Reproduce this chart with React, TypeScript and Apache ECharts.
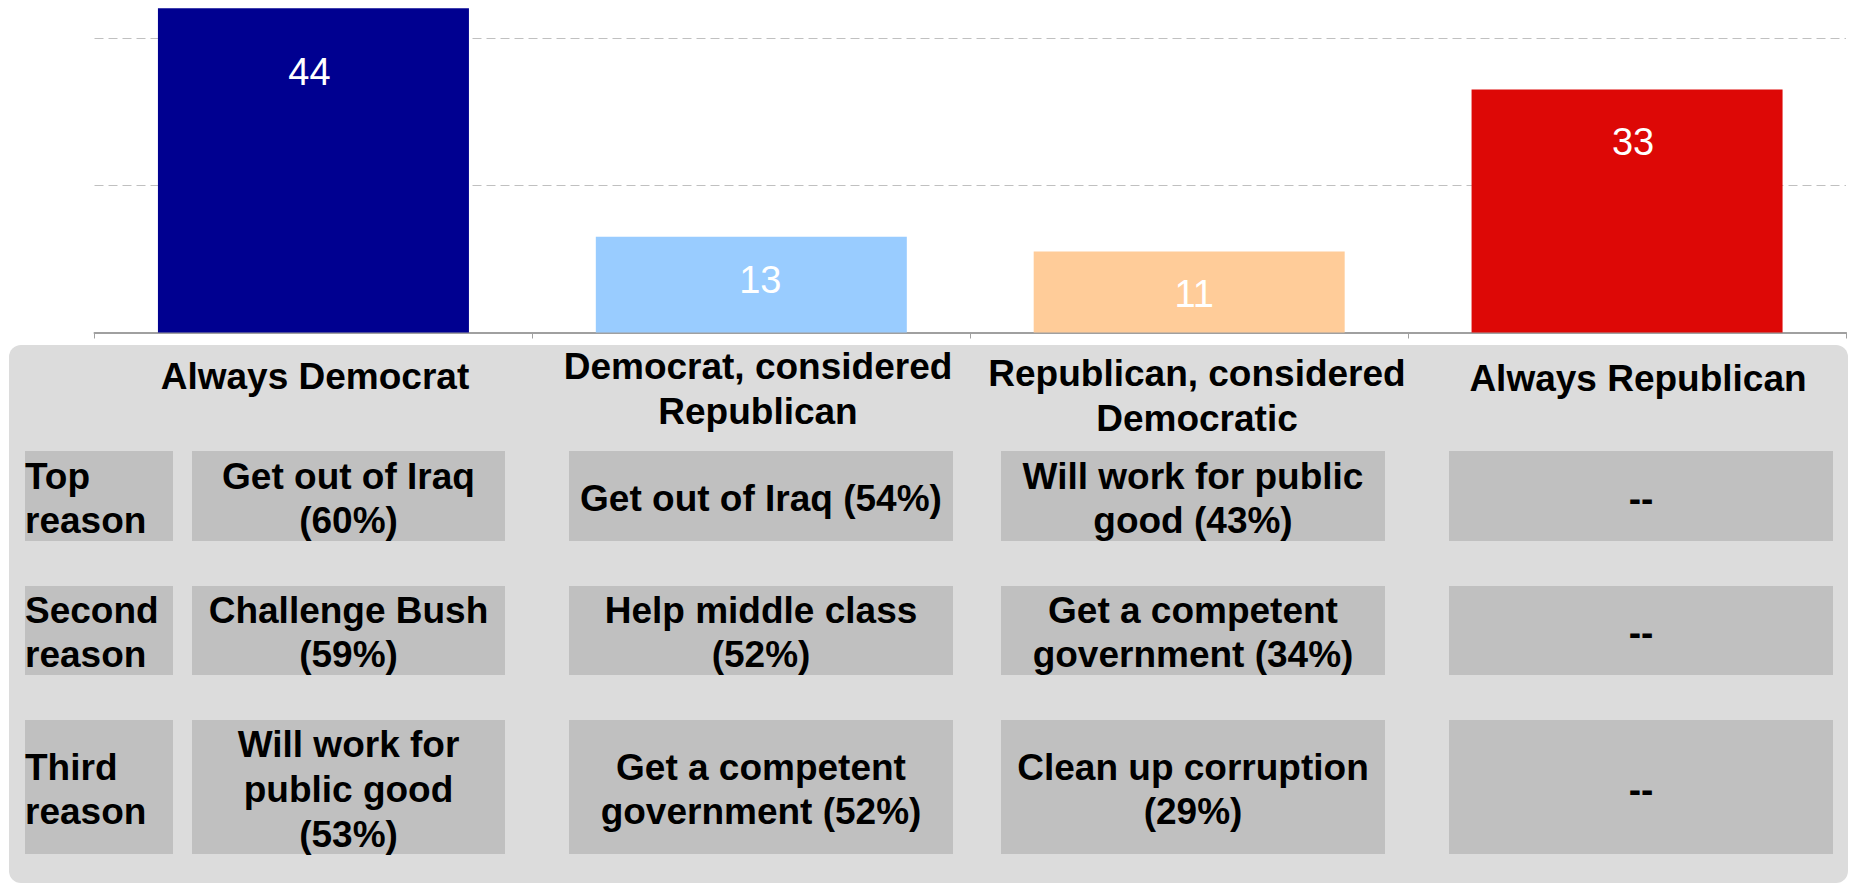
import React, { useEffect, useRef } from "react";
import * as echarts from "echarts";

// ---- data ----
const categories = [
  "Always Democrat",
  "Democrat, considered Republican",
  "Republican, considered Democratic",
  "Always Republican",
];
const values = [44, 13, 11, 33];
const headerLines = [
  "Always Democrat",
  "Democrat, considered\nRepublican",
  "Republican, considered\nDemocratic",
  "Always Republican",
];
const rowLabels = ["Top\nreason", "Second\nreason", "Third\nreason"];
const alwaysDemocratReasons = ["Get out of Iraq\n(60%)", "Challenge Bush\n(59%)", "Will work for\npublic good\n(53%)"];
const demConsideredRepReasons = ["Get out of Iraq (54%)", "Help middle class\n(52%)", "Get a competent\ngovernment (52%)"];
const repConsideredDemReasons = ["Will work for public\ngood (43%)", "Get a competent\ngovernment (34%)", "Clean up corruption\n(29%)"];
const alwaysRepublicanReasons = ["--", "--", "--"];
const gridValues = [0, 20, 40];

// ---- styles / layout ----
const barColors = ["#000090", "#99CCFF", "#FFCC99", "#DD0806"];
const labelDy = [64, 43, 43, 53];
const labelDx = [-4, 9, 5, 6];
const FONT = "'Liberation Sans', Arial, Helvetica, sans-serif";
const colBounds = [
  [192, 505],
  [569, 953],
  [1001, 1385],
  [1449, 1833],
];
const rowBounds = [
  [451, 541],
  [586, 675],
  [720, 854],
];
const labelCol = [25, 173];
const headerX = [315, 758, 1197, 1638];
const headerTop = [354, 344, 351, 356];

export default function App() {
  const ref = useRef<HTMLDivElement>(null);

  useEffect(() => {
    if (!ref.current) return;
    const chart = echarts.init(ref.current, null, { renderer: "svg" });
    const columns = [alwaysDemocratReasons, demConsideredRepReasons, repConsideredDemReasons, alwaysRepublicanReasons];

    const graphics: any[] = [];
    graphics.push({
      type: "rect",
      shape: { x: 9, y: 345, width: 1839, height: 538, r: 12 },
      style: { fill: "#DCDCDC" },
      z: 0,
    });
    headerLines.forEach((h, i) => {
      graphics.push({
        type: "text",
        x: headerX[i],
        y: headerTop[i],
        style: {
          text: h,
          fill: "#000",
          font: `bold 37px ${FONT}`,
          align: "center",
          verticalAlign: "top",
          lineHeight: 45,
        },
        z: 2,
      });
    });
    rowBounds.forEach((rb, r) => {
      const cy = (rb[0] + rb[1]) / 2 + 2;
      graphics.push({
        type: "rect",
        shape: { x: labelCol[0], y: rb[0], width: labelCol[1] - labelCol[0], height: rb[1] - rb[0] },
        style: { fill: "#C0C0C0" },
        z: 1,
      });
      graphics.push({
        type: "text",
        x: labelCol[0],
        y: cy,
        style: {
          text: rowLabels[r],
          fill: "#000",
          font: `bold 37px ${FONT}`,
          align: "left",
          verticalAlign: "middle",
          lineHeight: 44,
        },
        z: 2,
      });
      colBounds.forEach((cb, c) => {
        graphics.push({
          type: "rect",
          shape: { x: cb[0], y: rb[0], width: cb[1] - cb[0], height: rb[1] - rb[0] },
          style: { fill: "#C0C0C0" },
          z: 1,
        });
        const txt = columns[c][r];
        const lines = txt.split("\n").length;
        graphics.push({
          type: "text",
          x: (cb[0] + cb[1]) / 2,
          y: cy,
          style: {
            text: txt,
            fill: "#000",
            font: `bold 37px ${FONT}`,
            align: "center",
            verticalAlign: "middle",
            lineHeight: lines >= 3 ? 45 : 44,
          },
          z: 2,
        });
      });
    });

    chart.setOption({
      animation: false,
      backgroundColor: "#ffffff",
      grid: { left: 94.5, right: 6, top: 1, bottom: 550.5, containLabel: false },
      xAxis: {
        type: "category",
        data: categories,
        axisLabel: { show: false },
        axisLine: { show: true, lineStyle: { color: "#A0A0A0", width: 2 } },
        axisTick: { show: true, length: 6, lineStyle: { color: "#A0A0A0", width: 1 } },
        splitLine: { show: false },
      },
      yAxis: {
        type: "value",
        min: gridValues[0],
        max: 45,
        interval: gridValues[1] - gridValues[0],
        axisLabel: { show: false },
        axisLine: { show: false },
        axisTick: { show: false },
        splitLine: {
          show: true,
          showMinLine: false,
          showMaxLine: false,
          lineStyle: { color: "#C0C0C0", width: 1, type: [9, 5] },
        },
      },
      series: [
        {
          type: "bar",
          barWidth: 311,
          data: values.map((v, i) => ({
            value: v,
            itemStyle: { color: barColors[i] },
            label: { position: ["50%", labelDy[i]], offset: [labelDx[i], 0] },
          })),
          label: {
            show: true,
            color: "#FFFFFF",
            fontSize: 38,
            fontFamily: FONT,
            align: "center",
            verticalAlign: "middle",
          },
        },
      ],
      graphic: { elements: graphics },
    });

    return () => {
      chart.dispose();
    };
  }, []);

  return (
    <div
      ref={ref}
      style={{ position: "fixed", left: 0, top: 0, width: 1852, height: 883, background: "#fff" }}
    />
  );
}
